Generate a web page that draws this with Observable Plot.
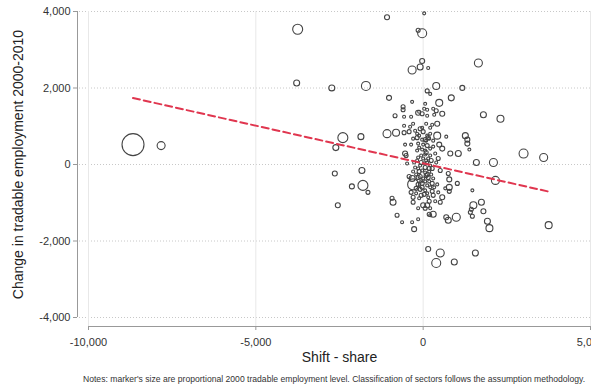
<!DOCTYPE html>
<html>
<head>
<meta charset="utf-8">
<script src="https://cdn.jsdelivr.net/npm/d3@7"></script>
<script src="https://cdn.jsdelivr.net/npm/@observablehq/plot@0.6"></script>
<style>
  body { margin: 0; background: #fff; font-family: "Liberation Sans", Arial, sans-serif; }
  #notes { font-size: 8.6px; color: #333; margin-left: 83px; margin-top: 6px; white-space: nowrap; }
</style>
</head>
<body>
<div id="chart"></div>
<div id="notes">Notes: marker's size are proportional 2000 tradable employment level. Classification of sectors follows the assumption methodology.</div>
<script>
// Shift-share prediction vs. actual change in tradable employment, one entry per sector
const shiftShare = [
  -8670, -7830, -3750, -3780, -2730, -2400, -2610, -2640, -2550, -1080,
  30, -30, -150, -330, -90, -30, 150, -1710, 390, 120,
  210, 1650, 1170, -1020, 840, 480, -330, 60, -600, -600,
  -840, -570, -360, -150, -30, 120, 120, 300, 390, 570,
  1800, 2310, -570, -390, -300, 90, 210, 420, 270, -90,
  0, -1080, -810, -570, -420, -1860, 420, 690, 1260, 1320,
  1320, 1380, -180, -300, 60, 150, -540, -360, 3000, 3600,
  1050, 1590, 2100, 2160, 1020, 1470, 1740, 1500, 1800, 1440,
  1470, -1830, -2130, -1800, -1650, -930, -900, -510, -480, 780,
  780, 780, 1920, 1980, 3750, -300, -300, -300, 120, 60,
  -780, -630, -330, -150, -270, 180, 300, 690, 750, 990,
  1410, 150, 510, 1560, 390, 930,
  -120, 30, 330, -30, -180, -120, 120, 210, -30, 90,
  180, 300, 0, 120, 480, -30, 60, 210, 570, -540,
  -60, 60, 210, 360, 810, 0, 150, 120, -90, 60,
  210, -300, -120, 60, 180, 750, -330, -150, 0, 150,
  300, -30, 120, 270, 420, 660, -90, 60, 270, 450,
  150, 300, 570, 360, 510, 0, 210, 90, -60, -150,
  270, -210, 120, -60, -210, 180, 30, -120, -270, 390,
  510, -420, 450, -180, 300, -150, -240, -360, 210, -150,
  -120, 90, -150, 240, 30, -180, 180, -30, -240, 90,
  240, -90, 60, -150, 210, -30, 120, -60, 330, -210,
  180
];
const employmentChange = [
  520, 494, 3536, 2132, 2002, 702, 442, -234, -1066, 3848,
  3952, 3432, 3510, 2470, 2548, 2704, 2522, 2054, 2054, 1924,
  1846, 2652, 2002, 1742, 1742, 1612, 1638, 1586, 1508, 1430,
  1274, 1248, 1248, 1352, 1326, 1430, 1274, 1456, 1404, 1326,
  1300, 1196, 1014, 988, 1066, 1066, 962, 1066, 1040, 936,
  858, 806, 832, 832, 858, 728, 754, 728, 754, 650,
  546, 390, 702, 676, 650, 702, 520, 520, 286, 182,
  286, 52, 52, -416, -494, -676, -988, -1066, -1222, -1170,
  -1352, -156, -572, -546, -728, -884, -988, 234, 26, -390,
  -598, -702, -1482, -1664, -1586, -520, -858, -988, -1066, -1144,
  -1326, -1508, -1508, -1430, -1690, -1300, -1300, -1378, -1456, -1378,
  -1248, -2210, -2314, -2314, -2574, -2548,
  1378, 1456, 1300, 962, 806, 754, 754, 806, 650, 624,
  676, 624, 520, 494, 520, 390, 364, 416, 416, 286,
  234, 260, 234, 286, 286, 156, 156, 52, -26, -78,
  -26, -182, -182, -208, -182, -234, -364, -338, -364, -338,
  -364, -494, -546, -494, -520, -624, -650, -676, -702, -728,
  -858, -806, -858, -962, -988, -1066, -1326, 104, 52, -104,
  -104, -260, -260, -442, -624, -442, -780, -884, 52, 52,
  -156, -312, 156, 364, 468, 546, 884, -728, -1144, -1144,
  442, 312, 182, 104, 26, 104, -104, -156, -78, -286,
  -260, -312, -442, -520, -598, -598, -754, -806, -598, -754,
  -962
];
// 2000 tradable employment level (sets marker area)
const employment2000 = [
  12000, 1590, 2480, 890, 890, 2480, 890, 620, 620, 620,
  220, 2010, 400, 1590, 890, 620, 220, 2010, 1210, 400,
  220, 1590, 620, 620, 890, 1210, 220, 220, 400, 400,
  400, 220, 220, 620, 400, 220, 220, 220, 400, 620,
  890, 1210, 220, 220, 220, 220, 220, 620, 220, 400,
  400, 1590, 1210, 400, 400, 890, 1210, 220, 890, 620,
  620, 220, 400, 220, 400, 400, 220, 220, 2010, 1590,
  890, 890, 1590, 1590, 400, 220, 890, 1210, 620, 400,
  400, 890, 620, 2480, 400, 400, 890, 400, 220, 620,
  890, 400, 890, 1210, 1210, 3000, 400, 400, 620, 400,
  400, 220, 220, 220, 620, 400, 890, 620, 890, 1590,
  400, 620, 1590, 890, 2010, 890,
  220, 220, 220, 220, 220, 220, 220, 220, 220, 220,
  220, 220, 220, 400, 620, 220, 220, 220, 620, 620,
  220, 220, 220, 220, 620, 220, 220, 220, 220, 400,
  220, 220, 400, 220, 220, 400, 890, 400, 220, 400,
  220, 400, 220, 400, 220, 220, 400, 220, 400, 220,
  220, 400, 620, 220, 400, 620, 220, 220, 400, 220,
  400, 220, 400, 220, 400, 220, 400, 220, 220, 220,
  400, 400, 400, 220, 220, 220, 220, 400, 220, 220,
  220, 400, 220, 400, 220, 220, 400, 220, 220, 400,
  220, 400, 220, 400, 220, 400, 220, 400, 220, 220,
  400
];

// Fitted line: change = intercept + slope * shift-share
const fitIntercept = 30;
const fitSlope = -0.197;

const xTicks = [-10000, -5000, 0, 5000];
const yTicks = [-4000, -2000, 0, 2000, 4000];
const xTitle = "Shift - share";
const yTitle = "Change in tradable employment 2000-2010";

const sectors = shiftShare.map((s, i) => ({
  shift: s,
  change: employmentChange[i],
  emp: employment2000[i]
}));
const fit = d3.extent(shiftShare).map(x => ({x, y: fitIntercept + fitSlope * x}));
const fmt = d => d.toLocaleString("en-US");

const chart = Plot.plot({
  width: 591,
  height: 368,
  marginTop: 11,
  marginBottom: 51,
  marginLeft: 88,
  marginRight: 1,
  style: {fontFamily: "'Liberation Sans', Arial, sans-serif", background: "#fff", color: "#333"},
  x: {domain: [xTicks[0], xTicks[xTicks.length - 1]]},
  y: {domain: [yTicks[0], yTicks[yTicks.length - 1]]},
  r: {type: "sqrt", domain: [0, 12000], range: [0, 11]},
  marks: [
    // grid
    Plot.ruleY(yTicks, {stroke: "#c8c8c8", strokeDasharray: "1,2", insetLeft: -9}),
    Plot.ruleX(xTicks, {stroke: "#e8e8e8", insetBottom: -9}),
    // detached axis lines
    Plot.ruleX([xTicks[0]], {y1: yTicks[0], y2: yTicks[yTicks.length - 1], dx: -11, stroke: "#999"}),
    Plot.ruleY([yTicks[0]], {dy: 9, stroke: "#999", insetRight: -2}),
    Plot.axisY(yTicks, {tickFormat: fmt, dx: -11, tickSize: 4, tickPadding: 3, fontSize: 11, label: null, stroke: "#999", fill: "#333"}),
    Plot.axisX(xTicks, {tickFormat: fmt, dy: 9, tickSize: 4, tickPadding: 8, fontSize: 11, label: null, stroke: "#999", fill: "#333"}),
    Plot.text([yTitle], {frameAnchor: "left", textAnchor: "middle", rotate: -90, dx: -70, fontSize: 14, fill: "#222"}),
    Plot.text([xTitle], {frameAnchor: "bottom", dy: 44, fontSize: 14, fill: "#222"}),
    // sectors
    Plot.dot(sectors, {x: "shift", y: "change", r: "emp", stroke: "#444", strokeWidth: 1.1, fill: "none"}),
    Plot.line(fit, {x: "x", y: "y", stroke: "#e0364f", strokeWidth: 2, strokeDasharray: "7,4"})
  ]
});
document.getElementById("chart").appendChild(chart);
</script>
</body>
</html>
